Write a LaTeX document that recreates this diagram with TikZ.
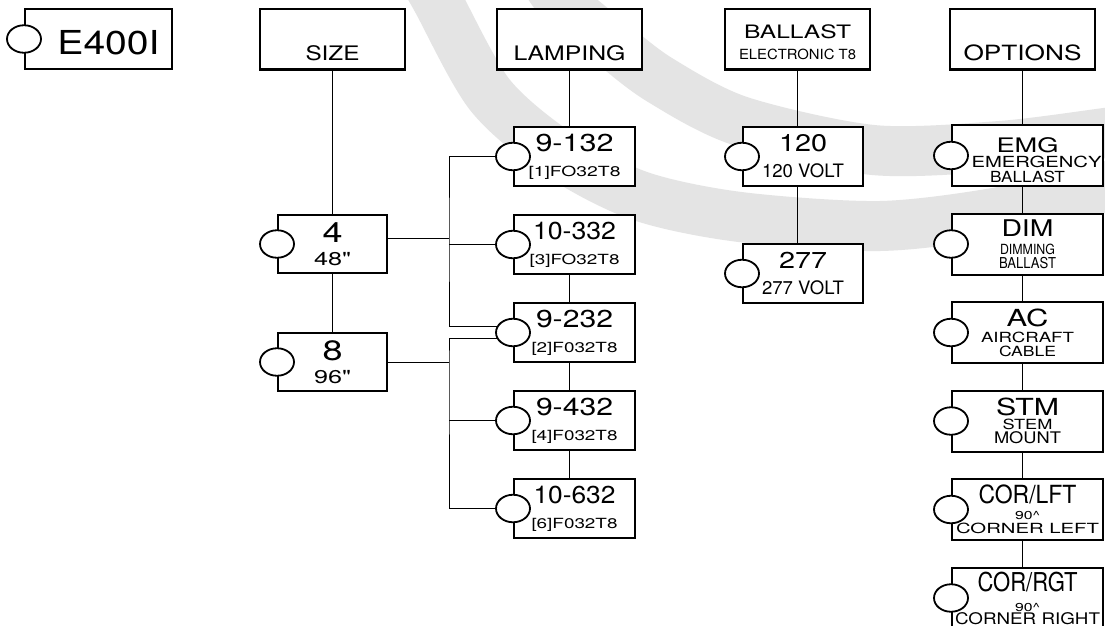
\documentclass[tikz,border=0pt]{standalone}
\usepackage{fontspec}
\setmainfont{TeX Gyre Heros}
\usepackage{graphicx}
\usepackage{tikz}
\usetikzlibrary{positioning,shapes.geometric}
\definecolor{swoosh}{HTML}{E4E4E4}
% text of a given size, fitted to a given width
\newcommand{\fitw}[3]{{\fontsize{#1pt}{#1pt}\selectfont\resizebox{#2pt}{\height}{#3}}}

\begin{document}
\begin{tikzpicture}[x=1pt, y=-1pt,
    head/.style={draw, line width=2pt, fill=white, minimum width=145pt, minimum height=60pt, inner sep=0pt},
    headlow/.style={head, text height=42pt, text depth=0pt},
    choice/.style={draw, line width=2pt, fill=white, minimum height=59pt, inner sep=0pt, align=center},
    sizebox/.style={choice, minimum width=109pt, minimum height=58pt, font=\fontsize{14}{22.5}\selectfont},
    lampbox/.style={choice, minimum width=121pt, font=\fontsize{14}{25}\selectfont},
    voltbox/.style={choice, minimum width=120pt, font=\fontsize{14}{26}\selectfont},
    optbox/.style={choice, minimum width=151pt, minimum height=61pt, font=\fontsize{14}{14}\selectfont},
    bulb/.style={ellipse, draw, line width=1.8pt, fill=white, minimum width=34pt, minimum height=27.5pt, inner sep=0pt},
    link/.style={line width=0.9pt},
    swooshband/.style={draw=swoosh, line width=50pt}
]
    \useasboundingbox (0,0) rectangle (1105,626);
    \clip (0,0) rectangle (1105,626);
    \fill[white] (0,0) rectangle (1105,626);

    % watermark
    \draw[swooshband] plot[smooth] coordinates {(420,-30) (437,0) (490,95) (560,155) (640,196) (740,217) (880,226) (1000,212) (1105,187) (1140,175)};
    \draw[swooshband] plot[smooth] coordinates {(540,-30) (560,0) (610,42) (660,80) (740,121) (873,150) (1000,146) (1105,133) (1140,128)};

    % column heads
    \node[head, text height=31pt, text depth=0pt, minimum width=147pt] (model) at (98.5,39) {\hspace*{20pt}\fitw{33}{102}{E400I}};
    \node[headlow] (size) at (332.5,39.5) {\fitw{20}{54}{SIZE}};
    \node[headlow] (lamp) at (569.5,39.5) {\fitw{20}{112}{LAMPING}};
    \node[head, align=center, font=\fontsize{14}{21.7}\selectfont] (ballast) at (797.5,39.5) {\rule{0pt}{19.5pt}\fitw{18.5}{107}{BALLAST}\\\fitw{14}{117}{ELECTRONIC T8}};
    \node[headlow] (opts) at (1022.5,39.5) {\fitw{21}{118}{OPTIONS}};

    % size
    \node[sizebox, below=143.5pt of size] (s4) {\fitw{28}{20}{4}\\\fitw{18.5}{37}{48\textquotedbl}};
    \node[sizebox, below=58pt of s4, font=\fontsize{14}{23}\selectfont] (s8) {\fitw{28}{20}{8}\\\fitw{18.5}{37}{96\textquotedbl}};

    % lamping
    \node[lampbox, below=55.5pt of lamp, xshift=5pt] (l9132) {\fitw{24.5}{78}{9-132}\\\fitw{14}{92}{[1]FO32T8}};
    \node[lampbox, below=27pt of l9132] (l10332) {\fitw{24.5}{83}{10-332}\\\fitw{14}{90}{[3]FO32T8}};
    \node[lampbox, below=27pt of l10332] (l9232) {\fitw{24.5}{77}{9-232}\\\fitw{14}{86}{[2]F032T8}};
    \node[lampbox, below=27pt of l9232] (l9432) {\fitw{24.5}{77}{9-432}\\\fitw{14}{86}{[4]F032T8}};
    \node[lampbox, below=27pt of l9432] (l10632) {\fitw{24.5}{82}{10-632}\\\fitw{14}{86}{[6]F032T8}};

    % ballast
    \node[voltbox, below=55.5pt of ballast, xshift=5.5pt] (b120) {\fitw{24}{48}{120}\\\fitw{18.5}{82}{120 VOLT}};
    \node[voltbox, below=56pt of b120] (b277) {\fitw{23}{48}{277}\\\fitw{18.5}{82}{277 VOLT}};

    % options
    \node[optbox, below=53.5pt of opts, xshift=5pt, font=\fontsize{14}{15}\selectfont] (emg) {\rule{0pt}{25pt}\fitw{20}{62}{EMG}\\\hspace*{18pt}\fitw{15.3}{130}{EMERGENCY}\\\fitw{15.3}{75}{BALLAST}};
    \node[optbox, below=25.5pt of emg] (dim) {\fitw{23}{52}{DIM}\\[4pt]\fitw{14}{55}{DIMMING}\\\fitw{15}{57}{BALLAST}};
    \node[optbox, below=25.5pt of dim] (ac) {\fitw{23.5}{42}{AC}\\[2pt]\fitw{14}{93}{AIRCRAFT}\\\fitw{14}{57}{CABLE}};
    \node[optbox, below=25.5pt of ac] (stm) {\fitw{23.5}{63}{STM}\\\fitw{14}{50}{STEM}\\\fitw{16}{67}{MOUNT}};
    \node[optbox, below=25.5pt of stm] (corl) {\fitw{25}{98}{COR/LFT}\\[2pt]\fitw{11.5}{25}{90\textasciicircum}\\\fitw{14}{143}{CORNER LEFT}};
    \node[optbox, below=25.5pt of corl, font=\fontsize{14}{13}\selectfont] (corr) {\fitw{26}{100}{COR/RGT}\\[7pt]\fitw{11.5}{25}{90\textasciicircum}\\\fitw{16}{145}{CORNER RIGHT}};

    % connectors
    \draw[link] (size) -- (s4);
    \draw[link] (s4) -- (s8);
    \draw[link] (lamp.south) -- (lamp.south |- l9132.north);
    \foreach \a/\b in {l10332/l9232, l9232/l9432, l9432/l10632}
        \draw[link] (lamp.south |- \a.south) -- (lamp.south |- \b.north);
    \draw[link] (ballast.south) -- (ballast.south |- b120.north);
    \draw[link] (ballast.south |- b120.south) -- (ballast.south |- b277.north);
    \draw[link] (opts.south) -- (opts.south |- emg.north);
    \foreach \a/\b in {emg/dim, dim/ac, ac/stm, stm/corl, corl/corr}
        \draw[link] (opts.south |- \a.south) -- (opts.south |- \b.north);

    \coordinate (fork4) at ([xshift=61pt, yshift=6pt]s4.east);
    \coordinate (fork8) at ([xshift=61pt]s8.east);
    \draw[link] ([yshift=6pt]s4.east) -- (fork4);
    \draw[link] (l9132.west) -| (fork4) |- ([yshift=6pt]l9232.west);
    \draw[link] (fork4 |- l10332.west) -- (l10332.west);
    \draw[link] (s8.east) -- (fork8);
    \draw[link] ([yshift=-6pt]l9232.west) -| (fork8) |- (l10632.west);
    \draw[link] (fork8 |- l9432.west) -- (l9432.west);

    % selection circles
    \foreach \n in {model, s4, s8, l9132, l10332, l9232, l9432, l10632, b120, b277, emg, dim, ac, stm, corl, corr}
        \node[bulb] (\n-bulb) at (\n.west) {};
\end{tikzpicture}
\end{document}
